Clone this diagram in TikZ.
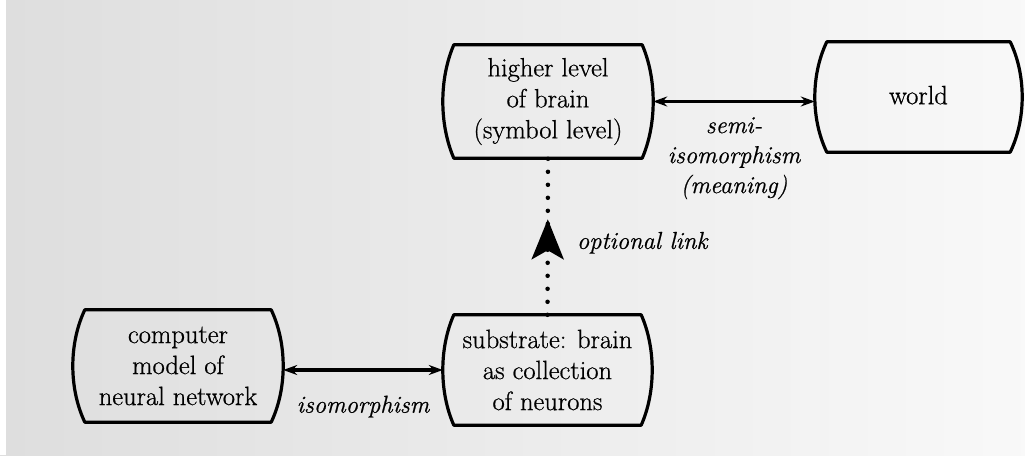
\documentclass[tikz,border=0pt]{standalone}
\usepackage{fontspec}
\setmainfont{Latin Modern Roman}[FakeBold=0.7]
\usetikzlibrary{arrows.meta,calc,decorations.markings}
\tikzset{
  barrel/.style={inner sep=0pt, align=center, font=\fontsize{26.5}{31}\selectfont},
  boxline/.style={line width=3.2pt, line join=round},
  link/.style={line width=3.4pt, {Stealth[length=14pt,width=10pt]}-{Stealth[length=14pt,width=10pt]}},
  dotline/.style={line width=4.5pt, line cap=round, dash pattern=on 0pt off 13pt},
  lbl/.style={font=\fontsize{24.5}{30}\selectfont\itshape, align=center, inner sep=0pt},
}
\newcommand\drawbarrel[2]{%
  \draw[boxline] ([xshift=#2pt]#1.north west) -- ([xshift=-#2pt]#1.north east)
    .. controls ($(#1.north east)!0.3!(#1.south east)+(#2/3,0)$) and ($(#1.north east)!0.7!(#1.south east)+(#2/3,0)$) .. ([xshift=-#2pt]#1.south east)
    -- ([xshift=#2pt]#1.south west)
    .. controls ($(#1.north west)!0.7!(#1.south west)+(-#2/3,0)$) and ($(#1.north west)!0.3!(#1.south west)+(-#2/3,0)$) .. cycle;}
\begin{document}
\begin{tikzpicture}[x=1pt,y=-1pt]
  \shade[left color=gray!26, right color=gray!5] (0,0) rectangle (1025,455);
  \fill[white] (0,0) rectangle (6,455);
  \useasboundingbox (0,0) rectangle (1025,455);

  \node[barrel, minimum width=210pt, minimum height=113pt] (hl) at (548,101.5) {higher level\\of brain\\(symbol level)};
  \node[barrel, minimum width=207pt, minimum height=110pt] (world) at (918.5,97) {\raisebox{4pt}{world}};
  \node[barrel, minimum width=210pt, minimum height=112pt] (cm) at (178,366) {computer\\model of\\neural network};
  \node[barrel, minimum width=209pt, minimum height=110pt] (sub) at (547.5,370) {substrate: brain\\as collection\\of neurons};

  \drawbarrel{hl}{11}
  \drawbarrel{world}{12}
  \drawbarrel{cm}{12}
  \drawbarrel{sub}{11}

  \draw[link] (hl.east) -- (hl.east -| world.west)
    node[midway, below=14pt, lbl] {semi-\\isomorphism\\(meaning)};
  \draw[link] (cm.east |- sub.west) -- (sub.west)
    node[midway, below=24pt, lbl] {isomorphism};
  \draw[dotline, postaction={decorate, decoration={markings,
      mark=at position 0.61 with {\arrow{Stealth[length=40pt,width=32pt,inset=9pt]}}}}]
    (sub.north) -- (hl.south)
    node[pos=0.46, right=27pt, lbl] {optional link};
\end{tikzpicture}
\end{document}
